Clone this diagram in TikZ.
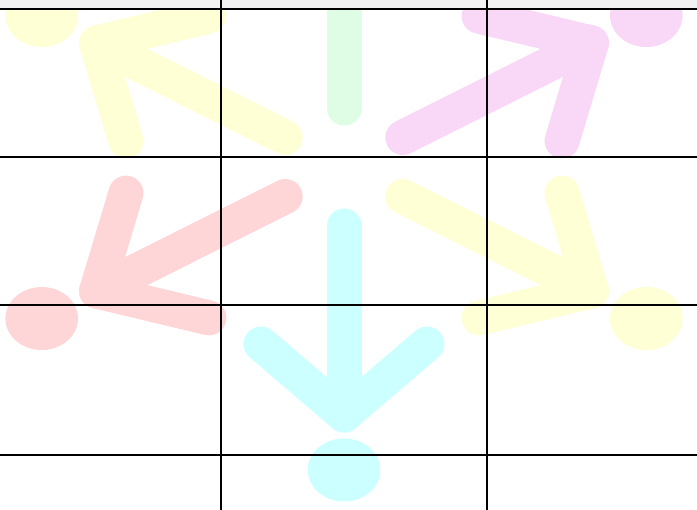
\documentclass[tikz,border=0pt]{standalone}
\definecolor{cyanL}{HTML}{CCFFFF}
\definecolor{greenL}{HTML}{DFFDE4}
\definecolor{yellowL}{HTML}{FFFFD6}
\definecolor{pinkL}{HTML}{F8D8F6}
\definecolor{redL}{HTML}{FFD6D8}
\definecolor{bandgray}{HTML}{F2F2F2}
\begin{document}
\begin{tikzpicture}[x=1pt,y=-1pt,
  arrowline/.style={line width=35pt, line cap=round, line join=round},
  gridline/.style={draw=black, line width=2pt}]
\useasboundingbox (0,0) rectangle (697,510);
\clip (0,0) rectangle (697,510);
\fill[white] (0,0) rectangle (697,510);
\begin{scope}[shift={(344,167)}, xscale=1.152]
  \foreach \ang/\col in {-90/cyanL, 90/greenL, -30/yellowL, 150/yellowL, 30/pinkL, 210/redL}{
    \begin{scope}[rotate=\ang]
      \draw[arrowline, draw=\col] (59,0) -- (248,0);
      \draw[arrowline, draw=\col] (177,-72) -- (248,0) -- (177,72);
      \fill[\col] (303,0) circle[radius=31.5];
    \end{scope}
  }
\end{scope}
\fill[bandgray] (0,0) rectangle (697,9);
\draw[gridline] (0,9) -- (697,9);
\draw[gridline] (0,157) -- (697,157);
\draw[gridline] (0,305) -- (697,305);
\draw[gridline] (0,455) -- (697,455);
\draw[gridline] (221,0) -- (221,510);
\draw[gridline] (487,0) -- (487,510);
\end{tikzpicture}
\end{document}
